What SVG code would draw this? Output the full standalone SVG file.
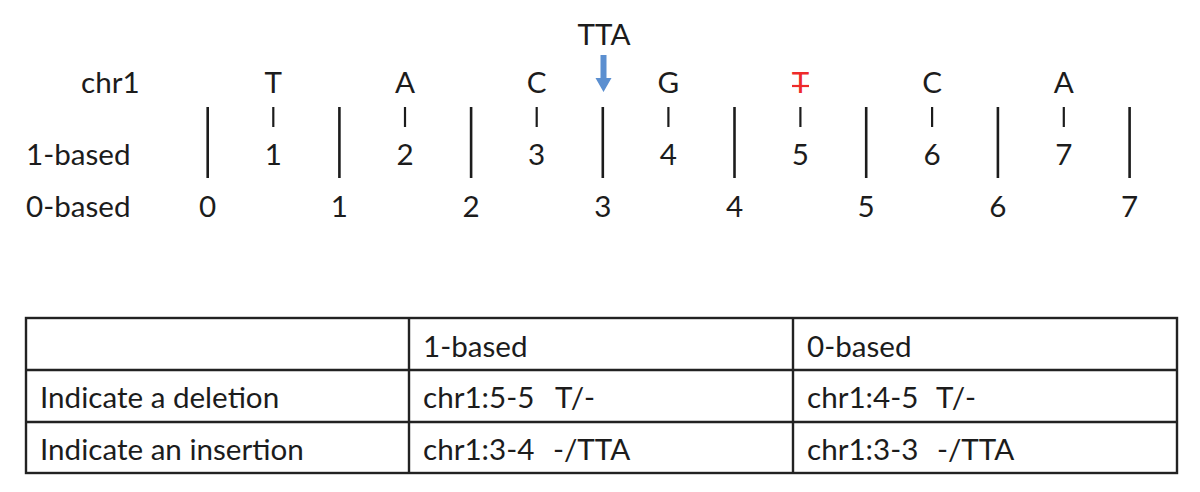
<svg xmlns="http://www.w3.org/2000/svg" width="1200" height="492" viewBox="0 0 1200 492">
  <defs>
    <style>
      text { font-family: Lato, "Open Sans", "Liberation Sans", sans-serif; font-size: 29.6px; fill: #1c1c1c; }
      .c { text-anchor: middle; }
      .long { stroke: #1c1c1c; stroke-width: 2.6; }
      .short { stroke: #1c1c1c; stroke-width: 2.2; }
      .grid { stroke: #222; stroke-width: 2.4; fill: none; }
      .del { fill: #ee2a2a; }
    </style>
  </defs>
  <rect width="1200" height="492" fill="#ffffff"/>

  <g id="labels">
    <text x="81" y="93">chr1</text>
    <text x="26" y="165">1-based</text>
    <text x="26" y="217">0-based</text>
  </g>

  <g id="boundaries">
    <line class="long" x1="207.7" y1="107" x2="207.7" y2="178"/>
    <line class="long" x1="339.4" y1="107" x2="339.4" y2="178"/>
    <line class="long" x1="471.1" y1="107" x2="471.1" y2="178"/>
    <line class="long" x1="602.8" y1="107" x2="602.8" y2="178"/>
    <line class="long" x1="734.5" y1="107" x2="734.5" y2="178"/>
    <line class="long" x1="866.2" y1="107" x2="866.2" y2="178"/>
    <line class="long" x1="997.9" y1="107" x2="997.9" y2="178"/>
    <line class="long" x1="1129.6" y1="107" x2="1129.6" y2="178"/>
  </g>

  <g id="bases">
    <text class="c" x="273.3" y="93">T</text>
    <text class="c" x="405" y="93">A</text>
    <text class="c" x="536.7" y="93">C</text>
    <text class="c" x="668.4" y="93">G</text>
    <text class="c del" x="800.4" y="93">T</text>
    <line x1="792" y1="86" x2="809" y2="86" stroke="#ee2a2a" stroke-width="2.2"/>
    <text class="c" x="932.1" y="93">C</text>
    <text class="c" x="1063.8" y="93">A</text>
    <line class="short" x1="273.3" y1="107" x2="273.3" y2="127"/>
    <line class="short" x1="405" y1="107" x2="405" y2="127"/>
    <line class="short" x1="536.7" y1="107" x2="536.7" y2="127"/>
    <line class="short" x1="668.4" y1="107" x2="668.4" y2="127"/>
    <line class="short" x1="800.4" y1="107" x2="800.4" y2="127"/>
    <line class="short" x1="932.1" y1="107" x2="932.1" y2="127"/>
    <line class="short" x1="1063.8" y1="107" x2="1063.8" y2="127"/>
  </g>

  <g id="one-based">
    <text class="c" x="273.3" y="165">1</text>
    <text class="c" x="405" y="165">2</text>
    <text class="c" x="536.7" y="165">3</text>
    <text class="c" x="668.4" y="165">4</text>
    <text class="c" x="800.4" y="165">5</text>
    <text class="c" x="932.1" y="165">6</text>
    <text class="c" x="1063.8" y="165">7</text>
  </g>

  <g id="zero-based">
    <text class="c" x="207.7" y="217">0</text>
    <text class="c" x="339.4" y="217">1</text>
    <text class="c" x="471.1" y="217">2</text>
    <text class="c" x="602.8" y="217">3</text>
    <text class="c" x="734.5" y="217">4</text>
    <text class="c" x="866.2" y="217">5</text>
    <text class="c" x="997.9" y="217">6</text>
    <text class="c" x="1129.6" y="217">7</text>
  </g>

  <g id="insertion">
    <text class="c" x="604" y="45">TTA</text>
    <g id="connectors">
      <path d="M600.5 55 L606.5 55 L606.5 78 L611.5 78 L603.5 92 L595.5 78 L600.5 78 Z" fill="#5b8fd0"/>
    </g>
  </g>

  <g id="table">
    <rect class="grid" x="26" y="318" width="1151" height="155"/>
    <line class="grid" x1="26" y1="370" x2="1177" y2="370"/>
    <line class="grid" x1="26" y1="422" x2="1177" y2="422"/>
    <line class="grid" x1="409" y1="318" x2="409" y2="473"/>
    <line class="grid" x1="793" y1="318" x2="793" y2="473"/>
    <text x="423" y="357">1-based</text>
    <text x="807" y="357">0-based</text>
    <text x="40" y="408">Indicate a deletion</text>
    <text x="40" y="460">Indicate an insertion</text>
    <text x="423" y="408">chr1:5-5<tspan x="555">T/-</tspan></text>
    <text x="423" y="460">chr1:3-4<tspan x="553">-/TTA</tspan></text>
    <text x="807" y="408">chr1:4-5<tspan x="936">T/-</tspan></text>
    <text x="807" y="460">chr1:3-3<tspan x="937">-/TTA</tspan></text>
  </g>
</svg>
